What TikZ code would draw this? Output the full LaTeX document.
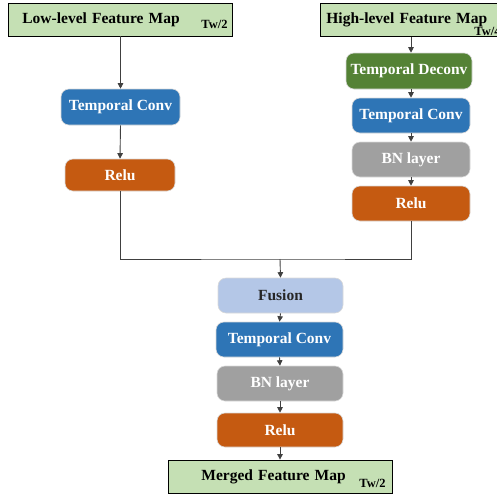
\documentclass[tikz,border=0pt]{standalone}
\usepackage{fontspec}
\setmainfont{Liberation Serif}
\usepackage{tikz}
\usepackage{xcolor}
\usetikzlibrary{arrows.meta, positioning}
\definecolor{mapgreen}{RGB}{197,224,180}
\definecolor{convblue}{RGB}{46,117,182}
\definecolor{reluorange}{RGB}{197,90,17}
\definecolor{deconvgreen}{RGB}{84,130,53}
\definecolor{bngray}{RGB}{160,160,160}
\definecolor{fusionblue}{RGB}{180,199,231}
\definecolor{wiregray}{RGB}{64,64,64}

\begin{document}
\begin{tikzpicture}[
    x=1pt, y=-1pt,
    font=\bfseries\fontsize{15.5}{18}\selectfont,
    base/.style={rounded corners=8pt, minimum height=35pt, align=center,
                 inner sep=0pt, draw=white!85!black, line width=0.6pt},
    conv/.style={base, fill=convblue, text=white},
    relu/.style={base, fill=reluorange, text=white},
    deconv/.style={base, fill=deconvgreen, text=white},
    bn/.style={base, fill=bngray, text=white},
    fuse/.style={base, fill=fusionblue, text=black!85},
    fmap/.style={draw=black, fill=mapgreen, line width=0.8pt, anchor=west,
                 minimum height=33pt, align=left, inner ysep=0pt},
    tw/.style={font=\bfseries\fontsize{12.5}{13}\selectfont, inner sep=0pt},
    wire/.style={draw=wiregray, line width=0.9pt},
    arr/.style={wire, -{Triangle[length=5.5pt, width=5.5pt]}},
  ]
  \useasboundingbox (0,0) rectangle (497,496);
  % feature maps
    \node[fmap, text width=196pt, inner xsep=14pt] (low) at (8,19.5) {Low-level Feature Map};
    \node[tw, anchor=south east] (lowtw) at ([xshift=-5pt, yshift=8pt]low.south east) {Tw/2};
    \node[fmap, text width=176pt, inner xsep=6pt] (high) at (320,20) {High-level Feature Map};
    \node[tw, anchor=south east] (hightw) at ([xshift=-8pt, yshift=1pt]high.south east) {Tw/4};
    \node[fmap, text width=158pt, inner xsep=33pt] (merged) at (168,476.5) {Merged Feature Map};
    \node[tw, anchor=south east] (mergedtw) at ([xshift=-7pt, yshift=6pt]merged.south east) {Tw/2};
  % low-level branch
    \node[conv, minimum width=119pt, minimum height=36pt] (lconv) at (120.5,107) {Temporal Conv};
    \node[relu, minimum width=110pt, minimum height=32pt] (lrelu) at (120,175) {Relu};
  % high-level branch
    \node[deconv, minimum width=126pt, minimum height=36pt] (hdeconv) at (409,71) {Temporal Deconv};
    \node[conv, minimum width=118pt] (hconv) at (411,115.5) {Temporal Conv};
    \node[bn, minimum width=118pt] (hbn) at (411,159.5) {BN layer};
    \node[relu, minimum width=118pt] (hrelu) at (411,203.5) {Relu};
  % merge
    \coordinate (join) at (280,259);
    \node[fuse, minimum width=125pt] (fusion) at (280.5,295.5) {Fusion};
    \node[conv, minimum width=127pt] (bconv) at (279.5,339.5) {Temporal Conv};
    \node[bn, minimum width=126pt] (bbn) at (280,383.5) {BN layer};
    \node[relu, minimum width=126pt, minimum height=34pt] (brelu) at (280,430) {Relu};
  % arrows
    \draw[arr] (low.south -| lconv.north) -- (lconv.north);
    \draw[arr] (lconv.south) -- (lrelu.north);
    \draw[arr] (high.south -| hconv.north) -- (hdeconv.north -| hconv.north);
    \draw[arr] (hdeconv.south -| hconv.north) -- (hconv.north);
    \draw[arr] (hconv.south) -- (hbn.north);
    \draw[arr] (hbn.south) -- (hrelu.north);
    \draw[wire] (lrelu.south) |- (join) -| (hrelu.south);
    \draw[arr] (join) -- (fusion.north);
    \draw[arr] (fusion.south) -- (bconv.north);
    \draw[arr] (bconv.south) -- (bbn.north);
    \draw[arr] (bbn.south) -- (brelu.north);
    \draw[arr] (brelu.south) -- (merged.north -| brelu.south);
  \end{tikzpicture}
\end{document}
